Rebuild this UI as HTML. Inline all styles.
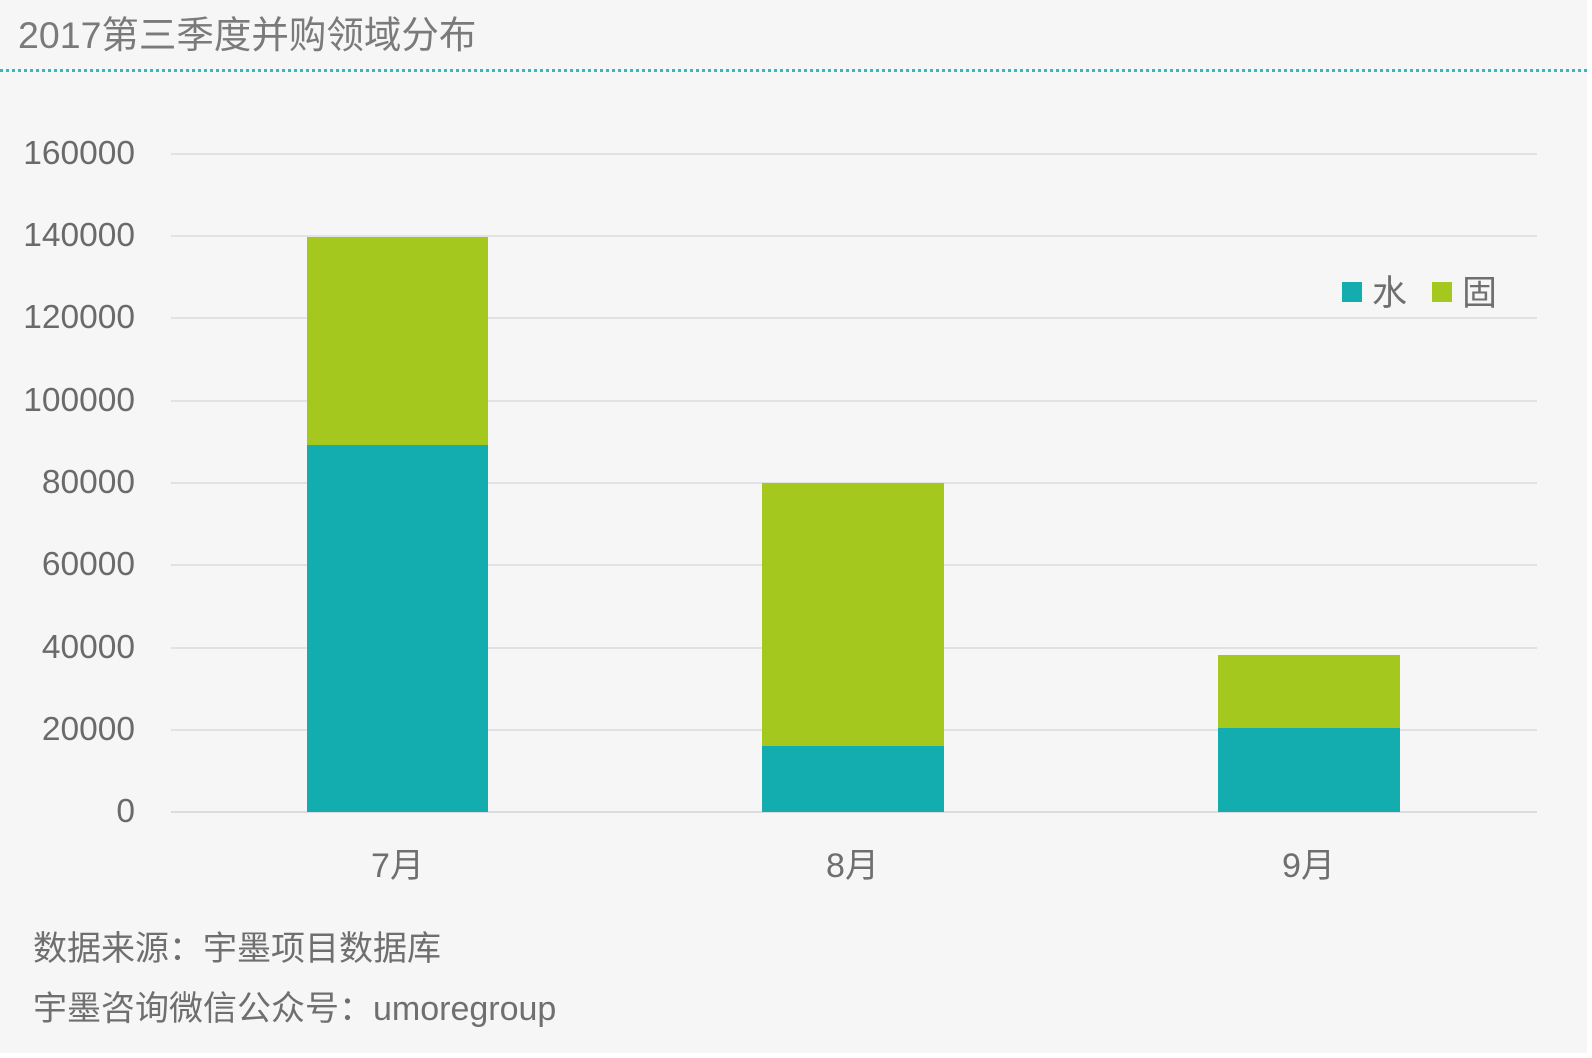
<!DOCTYPE html>
<html><head><meta charset="utf-8"><style>
html,body{margin:0;padding:0;}
body{width:1592px;height:1058px;background:#fff;position:relative;overflow:hidden;font-family:"Liberation Sans","Noto Sans CJK SC",sans-serif;}
.bg{position:absolute;left:0;top:0;width:1587px;height:1053px;background:#f6f6f7;}
.t{position:absolute;white-space:nowrap;color:#6f6f6f;}
.g{position:absolute;left:171px;width:1366px;height:2px;background:#e2e2e4;}
.yl{position:absolute;width:135px;text-align:right;font-size:33.5px;color:#6a6a6a;}
.bar{position:absolute;}
.teal{background:#13acaf;}
.green{background:#a5c81e;}
</style></head><body>
<div class="bg"></div>
<div class="t" style="left:18px;top:4px;font-size:37.5px;color:#7a7a7a;">2017第三季度并购领域分布</div>
<div style="position:absolute;left:0;top:69px;width:1587px;height:0;border-top:3px dotted #3cb6b8;"></div>

<div class="g" style="top:153px"></div>
<div class="g" style="top:235px"></div>
<div class="g" style="top:317px"></div>
<div class="g" style="top:400px"></div>
<div class="g" style="top:482px"></div>
<div class="g" style="top:564px"></div>
<div class="g" style="top:647px"></div>
<div class="g" style="top:729px"></div>
<div class="g" style="top:811px;background:#dcdcde"></div>

<div class="yl" style="top:135px">160000</div>
<div class="yl" style="top:217px">140000</div>
<div class="yl" style="top:299px">120000</div>
<div class="yl" style="top:382px">100000</div>
<div class="yl" style="top:464px">80000</div>
<div class="yl" style="top:546px">60000</div>
<div class="yl" style="top:629px">40000</div>
<div class="yl" style="top:711px">20000</div>
<div class="yl" style="top:793px">0</div>

<div class="bar green" style="left:307px;width:181px;top:237px;height:208px"></div>
<div class="bar teal" style="left:307px;width:181px;top:445px;height:367px"></div>
<div class="bar green" style="left:762px;width:182px;top:483px;height:263px"></div>
<div class="bar teal" style="left:762px;width:182px;top:746px;height:66px"></div>
<div class="bar green" style="left:1218px;width:182px;top:655px;height:73px"></div>
<div class="bar teal" style="left:1218px;width:182px;top:728px;height:84px"></div>

<div class="t" style="left:340px;width:115px;text-align:center;top:838px;font-size:34px;">7月</div>
<div class="t" style="left:795px;width:115px;text-align:center;top:838px;font-size:34px;">8月</div>
<div class="t" style="left:1251px;width:115px;text-align:center;top:838px;font-size:34px;">9月</div>

<div class="bar teal" style="left:1342px;top:282px;width:20px;height:20px"></div>
<div class="t" style="left:1372px;top:265px;font-size:35px;">水</div>
<div class="bar green" style="left:1432px;top:282px;width:20px;height:20px"></div>
<div class="t" style="left:1462px;top:265px;font-size:35px;">固</div>

<div class="t" style="left:33px;top:921px;font-size:34px;">数据来源：宇墨项目数据库</div>
<div class="t" style="left:33px;top:981px;font-size:34px;">宇墨咨询微信公众号：umoregroup</div>
</body></html>
